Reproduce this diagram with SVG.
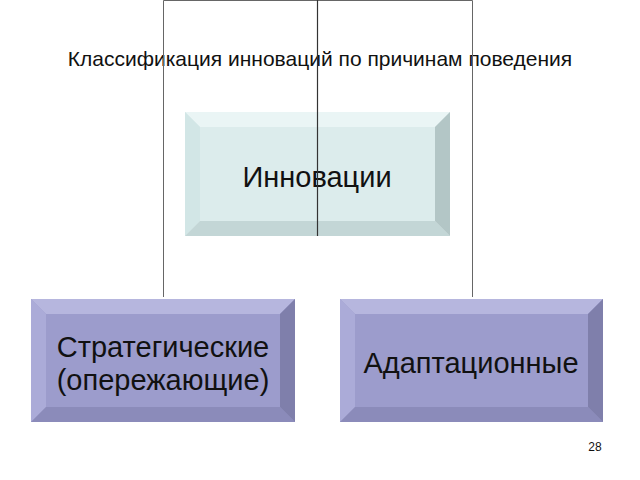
<svg xmlns="http://www.w3.org/2000/svg" width="640" height="480" viewBox="0 0 640 480">
<style>
.t{font-family:"Liberation Sans",Arial,sans-serif;fill:#111;text-anchor:middle}
.ln{stroke:#666;stroke-width:1;fill:none}
</style>
<rect width="640" height="480" fill="#fff"/>
<text class="t" x="320" y="66" font-size="21">Классификация инноваций по причинам поведения</text>
<g id="node-top">
<rect x="185" y="112" width="265" height="124" fill="#dcecec"/>
<polygon points="185,112 450,112 435,127 200,127" fill="#eaf5f5"/>
<polygon points="185,112 200,127 200,221 185,236" fill="#d2e6e6"/>
<polygon points="185,236 200,221 435,221 450,236" fill="#c3d6d6"/>
<polygon points="450,112 450,236 435,221 435,127" fill="#b3c6c6"/>
<text class="t" x="317" y="187" font-size="29">Инновации</text>
</g>
<g id="node-left">
<rect x="31" y="299" width="264" height="123" fill="#9c9ccc"/>
<polygon points="31,299 295,299 280,314 46,314" fill="#b6b6de"/>
<polygon points="31,299 46,314 46,407 31,422" fill="#ababd8"/>
<polygon points="31,422 46,407 280,407 295,422" fill="#8b8bba"/>
<polygon points="295,299 295,422 280,407 280,314" fill="#7f7fab"/>
<text class="t" x="163" y="357" font-size="29">Стратегические</text>
<text class="t" x="163" y="390" font-size="29">(опережающие)</text>
</g>
<g id="node-right">
<rect x="340" y="299" width="263" height="123" fill="#9c9ccc"/>
<polygon points="340,299 603,299 588,314 355,314" fill="#b6b6de"/>
<polygon points="340,299 355,314 355,407 340,422" fill="#ababd8"/>
<polygon points="340,422 355,407 588,407 603,422" fill="#8b8bba"/>
<polygon points="603,299 603,422 588,407 588,314" fill="#7f7fab"/>
<text class="t" x="471" y="373" font-size="29">Адаптационные</text>
</g>
<g id="connectors">
<path class="ln" d="M163.5,297 V0.5 H472.5 V297"/>
<path d="M317.5,0 V236" stroke="#333" stroke-width="1.2" fill="none"/>
</g>
<text class="t" x="595" y="451" font-size="12">28</text>
</svg>
